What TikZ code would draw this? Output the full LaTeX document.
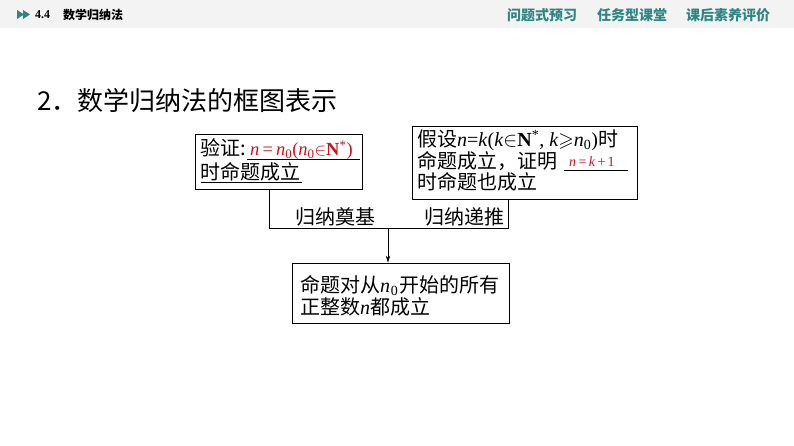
\documentclass[tikz,border=0pt]{standalone}
\usepackage{fontspec}
\usepackage{amssymb}
\usetikzlibrary{arrows.meta}
\setmainfont{Liberation Serif}
\newfontfamily\cjk{Noto Sans CJK SC}
\definecolor{navteal}{RGB}{46,134,130}
\definecolor{hdrgray}{RGB}{243,243,243}
\definecolor{fillred}{RGB}{200,22,29}
\newcommand\lw[1]{\textsubscript{#1}}
\begin{document}
\begin{tikzpicture}[x=1pt,y=-1pt,
  box/.style={draw, line width=0.8pt, inner sep=0pt},
  txt/.style={inner sep=0pt, anchor=base west, font=\fontsize{20}{20}\selectfont},
  nav/.style={inner sep=0pt, anchor=west, text=navteal, font=\fontsize{14}{14}\selectfont\cjk\bfseries},
  blank/.style={line width=0.6pt},
  conn/.style={line width=0.8pt}]
\useasboundingbox (0,0) rectangle (794,446);
\fill[white] (0,0) rectangle (794,446);
% header band
\fill[hdrgray] (0,0) rectangle (794,28);
\fill[navteal] (17,10) -- (24,14.5) -- (17,19) -- cycle;
\fill[navteal] (23,10) -- (30,14.5) -- (23,19) -- cycle;
\node (sec) [inner sep=0pt, anchor=west, font=\fontsize{12}{12}\selectfont\bfseries] at (35,15) {4.4};
\node (sect) [inner sep=0pt, anchor=west, font=\fontsize{12}{12}\selectfont\cjk\bfseries] at (63,15) {数学归纳法};
\node (nav1) [nav] at (507,15) {问题式预习};
\node (nav2) [nav] at (597,15) {任务型课堂};
\node (nav3) [nav] at (686,15) {课后素养评价};
% title
\node (title) [inner sep=0pt, anchor=west, font=\fontsize{26}{26}\selectfont\cjk] at (37,101) {2．数学归纳法的框图表示};
% boxes
\node (b1) [box, minimum width=167pt, minimum height=55pt] at (278.5,161.5) {};
\node (b2) [box, minimum width=225pt, minimum height=73pt] at (524.5,162.5) {};
\node (b3) [box, minimum width=217pt, minimum height=60pt] at (400.5,293) {};
% box 1 text
\node (t11) [txt] at (200,155.6) {\cjk 验证:};
\node (t12) [txt, text=fillred, font=\fontsize{18.5}{18.5}\selectfont] at (250,155.6) {\textit{n}\,=\,\textit{n}\lw{0}(\textit{n}\lw{0}$\in$\textbf{N}\textsuperscript{*})};
\draw[blank] (247,159.5) -- (360,159.5);
\node (t13) [txt] at (200,179.6) {\cjk 时命题成立};
\draw[blank] (201,182) -- (302,182);
% box 2 text
\node (t21) [txt] at (417,146.6) {{\cjk 假设}\textit{n}=\textit{k}(\textit{k}$\in$\textbf{N}\textsuperscript{*}, \textit{k}$\geqslant$\textit{n}\lw{0}){\cjk 时}};
\node (t22) [txt] at (417,168.2) {\cjk 命题成立，证明};
\node (t23) [txt, text=fillred, font=\fontsize{14}{14}\selectfont] at (569,166.5) {\textit{n}\,=\,\textit{k}\,+\,1};
\draw[blank] (564,170) -- (628,170);
\node (t24) [txt] at (417,189.3) {\cjk 时命题也成立};
% box 3 text
\node (t31) [txt] at (300,292.6) {{\cjk 命题对从}\textit{n}\kern0.6pt\lw{0}\kern1pt{\cjk 开始的所有}};
\node (t32) [txt] at (300,314.3) {{\cjk 正整数}\textit{n}{\cjk 都成立}};
% connectors
\coordinate (j1) at (269,228);
\coordinate (j2) at (508,228);
\coordinate (j0) at (388,228);
\draw[conn] (b1.south -| j1) -- (j1) -- (j2) -- (b2.south -| j2);
\draw[conn, -{Stealth[length=7pt,width=4.5pt]}] (j0) -- (b3.north -| j0);
\node (l1) [txt] at (295,224.6) {\cjk 归纳奠基};
\node (l2) [txt] at (424,224.6) {\cjk 归纳递推};
\end{tikzpicture}
\end{document}
